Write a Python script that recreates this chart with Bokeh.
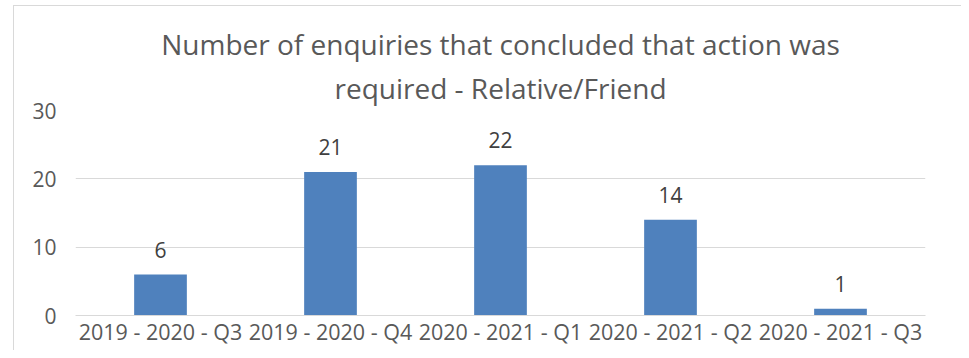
from bokeh.plotting import figure
from bokeh.models import ColumnDataSource, LabelSet, Range1d, FactorRange, FixedTicker, InlineStyleSheet, Title
from bokeh.core.properties import value
from bokeh.embed import file_html
from bokeh.resources import INLINE

categories = ["2019 - 2020 - Q3", "2019 - 2020 - Q4", "2020 - 2021 - Q1",
              "2020 - 2021 - Q2", "2020 - 2021 - Q3"]
values = [6, 21, 22, 14, 1]
y_ticks = [0, 10, 20, 30]
title_lines = ["Number of enquiries that concluded that action was",
               "required - Relative/Friend"]

FONT = "Open Sans"
TXT = "#595959"
GRID = "#D9D9D9"
BAR = "#4F81BD"

src = ColumnDataSource(dict(cat=categories, val=values, lab=[str(v) for v in values]))

p = figure(x_range=FactorRange(*categories, range_padding=0),
           y_range=Range1d(0, 30),
           width=961, height=350,
           output_backend="svg", toolbar_location=None,
           min_border_left=75, min_border_right=36,
           min_border_top=110, min_border_bottom=35)

# light chart-area border (top and left edges; the rest runs off the page)
p.stylesheets = [InlineStyleSheet(css=(
    ":host { position: relative; }"
    ":host::after { content: ''; position: absolute; left: 13px; top: 5px; right: 0; bottom: 0;"
    " border-top: 1px solid #D9D9D9; border-left: 1px solid #D9D9D9; pointer-events: none; z-index: 10; }"))]

p.outline_line_color = None
p.background_fill_color = "white"
p.border_fill_color = "white"

# two centred title lines; the one added first sits nearest the plot
p.title = None
for line, gap in zip(reversed(title_lines), [7, 1]):
    p.add_layout(Title(text=line, align="center", text_font=FONT, text_font_size="28px",
                       text_font_style="normal", text_color=TXT, text_line_height=1.0,
                       standoff=gap), "above")

p.vbar(x="cat", top="val", width=0.31, source=src, fill_color=BAR, line_color=None)

p.add_layout(LabelSet(x="cat", y="val", text="lab", source=src, text_align="center",
                      text_baseline="alphabetic", y_offset=17, text_color="#404040",
                      text_font=value(FONT), text_font_size=value("21px")))

p.xgrid.grid_line_color = None
p.ygrid.grid_line_color = GRID
p.ygrid.grid_line_width = 1

for ax in (p.xaxis, p.yaxis):
    ax.major_tick_line_color = None
    ax.minor_tick_line_color = None
    ax.major_tick_out = 0
    ax.major_tick_in = 0
    ax.minor_tick_out = 0
    ax.minor_tick_in = 0
    ax.major_label_text_font = FONT
    ax.major_label_text_color = TXT

p.yaxis.ticker = FixedTicker(ticks=y_ticks)
p.yaxis.axis_line_color = None
p.yaxis.major_label_standoff = 19
p.yaxis.major_label_text_font_size = "21px"

p.xaxis.axis_line_color = GRID
p.xaxis.major_label_standoff = 1
p.xaxis.major_label_text_font_size = "21.5px"

open("out.html", "w").write(file_html(p, INLINE))
